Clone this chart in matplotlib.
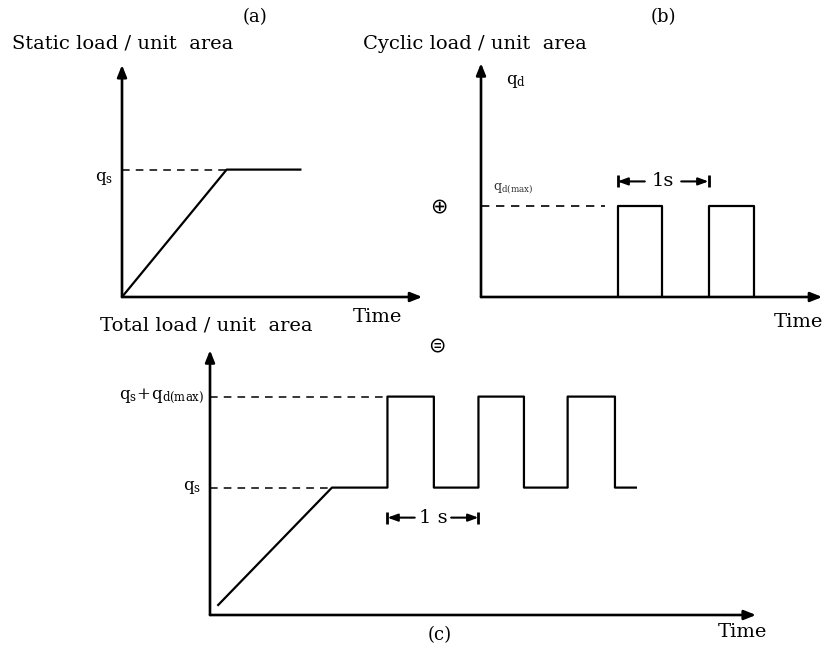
import matplotlib
matplotlib.use("Agg")
import matplotlib.pyplot as plt

plt.rcParams['font.family'] = ['DejaVu Serif', 'DejaVu Sans']
plt.rcParams['mathtext.fontset'] = 'dejavuserif'

# ---- data (time in s, load in units of q_d(max)) ----
QS = 1.4          # static load level
QD = 1.0          # cyclic amplitude

# (a) static loading
t_static = [0.0, 1.15, 1.96]
q_static = [0.0, QS, QS]

# (b) cyclic loading: pulses (start, end)
pulses_b = [(1.50, 1.99), (2.50, 3.00)]

# (c) total loading
t_total = [0.09, 1.34, 1.95, 1.95, 2.46, 2.46, 2.95, 2.95, 3.45, 3.45,
           3.93, 3.93, 4.45, 4.45, 4.68]
q_total = [0.11, QS, QS, QS + QD, QS + QD, QS, QS, QS + QD, QS + QD, QS,
           QS, QS + QD, QS + QD, QS, QS]

W, H = 827, 646
PX = 91.0   # pixels per unit (both axes)

fig = plt.figure(figsize=(W / 100, H / 100), dpi=100)
fig.patch.set_facecolor('white')


def make_ax(x0, y0, xmax, ymax):
    """axes with origin at pixel (x0, y0) measured from top-left"""
    ax = fig.add_axes([x0 / W, (H - y0) / H, xmax * PX / W, ymax * PX / H])
    ax.set_xlim(0, xmax)
    ax.set_ylim(0, ymax)
    ax.axis('off')
    arrow = dict(arrowstyle='-|>,head_length=0.7,head_width=0.28', color='black',
                 lw=1.9, shrinkA=0, shrinkB=0)
    ax.annotate('', xy=(xmax, 0), xytext=(0, 0), arrowprops=arrow, annotation_clip=False)
    ax.annotate('', xy=(0, ymax), xytext=(0, 0), arrowprops=arrow, annotation_clip=False)
    return ax


def one_second(ax, t0, y, label):
    ar = dict(arrowstyle='-|>,head_length=0.6,head_width=0.22', color='black',
              lw=1.5, shrinkA=0, shrinkB=0)
    ax.annotate('', xy=(t0, y), xytext=(t0 + 0.3, y), arrowprops=ar)
    ax.annotate('', xy=(t0 + 1, y), xytext=(t0 + 0.7, y), arrowprops=ar)
    ax.plot([t0, t0 + 1], [y, y], ls='none', marker='|', ms=9, mew=2, color='black')
    ax.text(t0 + 0.5, y, label, ha='center', va='center', fontsize=14)


# ---------- (a) ----------
ax_a = make_ax(122, 297, 3.3, 2.55)
ax_a.plot(t_static, q_static, color='black', lw=1.6)
ax_a.plot([0, t_static[1]], [QS, QS], color='black', lw=1.1, ls=(0, (5, 4)))
ax_a.text(-0.1, QS - 0.1, r'$\mathrm{q}_\mathrm{s}$', ha='right', va='center', fontsize=12)

# ---------- (b) ----------
ax_b = make_ax(481, 297, 3.75, 2.57)
for s, e in pulses_b:
    ax_b.plot([s, s, e, e], [0, QD, QD, 0], color='black', lw=1.6)
ax_b.plot([0, pulses_b[0][0] - 0.14], [QD, QD], color='black', lw=1.2, ls=(0, (5, 4)))
ax_b.text(0.27, 2.37, r'$\mathrm{q}_\mathrm{d}$', ha='left', va='center', fontsize=12)
ax_b.text(0.13, 1.2, r'$\mathrm{q}_{\mathrm{d(max)}}$', ha='left', va='center',
          fontsize=9, color='#333333')
one_second(ax_b, pulses_b[0][0], 1.27, '1s')

# ---------- (c) ----------
ax_c = make_ax(210, 615, 6.0, 2.91)
ax_c.plot(t_total, q_total, color='black', lw=1.6)
ax_c.plot([0, t_total[1]], [QS, QS], color='black', lw=1.1, ls=(0, (5, 4)))
ax_c.plot([0, t_total[2]], [QS + QD, QS + QD], color='black', lw=1.1, ls=(0, (5, 4)))
ax_c.text(-0.06, QS + QD, r'$\mathrm{q}_\mathrm{s}\!+\!\mathrm{q}_{\mathrm{d(max)}}$',
          ha='right', va='center', fontsize=12)
ax_c.text(-0.1, QS, r'$\mathrm{q}_\mathrm{s}$', ha='right', va='center', fontsize=12)
one_second(ax_c, t_total[2], 1.07, '1 s')

# ---------- labels ----------
fig.text(12 / W, 1 - 43 / H, 'Static load / unit  area', fontsize=14, va='center', ha='left')
fig.text(363 / W, 1 - 44 / H, 'Cyclic load / unit  area', fontsize=14, va='center', ha='left')
fig.text(100 / W, 1 - 325 / H, 'Total load / unit  area', fontsize=14, va='center', ha='left')
fig.text(255 / W, 1 - 17 / H, '(a)', fontsize=13, ha='center', va='center')
fig.text(663 / W, 1 - 17 / H, '(b)', fontsize=13, ha='center', va='center')
fig.text(440 / W, 1 - 635 / H, '(c)', fontsize=13, ha='center', va='center')
fig.text(377 / W, 1 - 317 / H, 'Time', fontsize=14, ha='center', va='center')
fig.text(798 / W, 1 - 322 / H, 'Time', fontsize=14, ha='center', va='center')
fig.text(742 / W, 1 - 632 / H, 'Time', fontsize=14, ha='center', va='center')
fig.text(439 / W, 1 - 206 / H, '\u2295', fontsize=15, ha='center', va='center',
         family=['DejaVu Sans'])
fig.text(437 / W, 1 - 346 / H, '\u229c', fontsize=15, ha='center', va='center',
         family=['DejaVu Sans'])

fig.savefig('out.png', dpi=100, facecolor='white')
